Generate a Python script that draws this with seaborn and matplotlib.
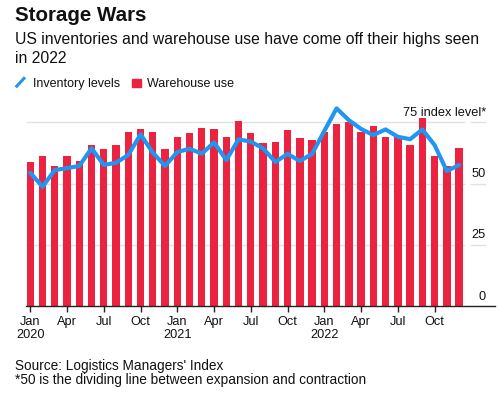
import numpy as np
import pandas as pd
import matplotlib
matplotlib.use("Agg")
import matplotlib.pyplot as plt
from matplotlib.lines import Line2D
from matplotlib.patches import Rectangle
import seaborn as sns

# ---- data ----
months = pd.date_range("2020-01-01", "2022-12-01", freq="MS").strftime("%b %Y").tolist()
warehouse_use = [58.8, 61.1, 57.0, 61.1, 59.1, 65.6, 64.0, 65.6, 71.2, 72.1, 71.2, 64.0,
                 69.1, 70.5, 72.5, 72.1, 68.9, 75.7, 70.8, 66.4, 66.8, 71.7, 68.5, 67.6,
                 71.2, 74.5, 75.3, 71.2, 73.4, 69.1, 69.1, 65.6, 76.9, 61.1, 57.2, 64.4]
inventory_levels = [54.4, 48.7, 55.5, 56.3, 57.2, 64.4, 57.6, 58.5, 61.7, 70.1, 62.6, 57.2,
                    62.9, 64.2, 62.2, 66.8, 59.6, 68.1, 67.1, 64.4, 58.8, 62.1, 59.2, 62.1,
                    71.5, 80.7, 75.9, 72.3, 69.8, 72.1, 69.1, 68.1, 72.1, 65.7, 55.1, 57.6]
x_tick_pos = [0, 3, 6, 9, 12, 15, 18, 21, 24, 27, 30, 33]
x_tick_labels = ["Jan\n2020", "Apr", "Jul", "Oct", "Jan\n2021", "Apr", "Jul", "Oct",
                 "Jan\n2022", "Apr", "Jul", "Oct"]
y_ticks = [0, 25, 50, 75]
y_tick_labels = ["0", "25", "50", "75 index level*"]

title = "Storage Wars"
subtitle = "US inventories and warehouse use have come off their highs seen\nin 2022"
legend_labels = ["Inventory levels", "Warehouse use"]
source = "Source: Logistics Managers' Index"
note = "*50 is the dividing line between expansion and contraction"

RED = "#EB2340"
BLUE = "#2196F0"
GRID = "#E2E2E2"
TXT = "#111111"

df = pd.DataFrame({"idx": np.arange(len(months)), "month": months,
                   "warehouse": warehouse_use, "inventory": inventory_levels})

sns.set_style("white")
plt.rcParams["font.family"] = ["Liberation Sans", "DejaVu Sans"]

W, H = 500, 396
fig = plt.figure(figsize=(W / 100, H / 100), dpi=100)
ax = fig.add_axes([26 / W, 90 / H, (495 - 26) / W, (306 - 105.2) / H])

sns.barplot(data=df, x="idx", y="warehouse", color=RED, width=0.6,
            linewidth=0, saturation=1, ax=ax, zorder=2)
sns.lineplot(data=df, x="idx", y="inventory", color=BLUE, linewidth=3.0,
             ax=ax, zorder=3, solid_joinstyle="round", solid_capstyle="round")

ax.set_xlim(-0.35, 37.93)
ax.set_ylim(0, 82)

# gridlines (main segment + short segment under labels)
for v in y_ticks[1:]:
    ax.hlines(v, -0.35, 35.49, color=GRID, linewidth=1.0, zorder=1)
    ax.hlines(v, 35.9, 37.2, color=GRID, linewidth=1.0, zorder=1)
for v, lab in zip(y_ticks, y_tick_labels):
    ax.annotate(lab, xy=(37.2, v), xytext=(0, 2.5), textcoords="offset points",
                ha="right", va="bottom", fontsize=9.2, color=TXT)

for s in ["top", "right", "left"]:
    ax.spines[s].set_visible(False)
ax.spines["bottom"].set_color("#222222")
ax.spines["bottom"].set_linewidth(1.0)
ax.set_yticks([])
ax.set_xticks(x_tick_pos)
ax.set_xticklabels(x_tick_labels, fontsize=9.2, color=TXT, linespacing=1.1)
ax.tick_params(axis="x", length=4, width=1, color="#222222", pad=3, bottom=True)
ax.set_xlabel("")
ax.set_ylabel("")
if ax.get_legend():
    ax.get_legend().remove()

def fy(px):
    return 1 - px / H

fig.text(15 / W, fy(21), title, fontsize=14.8, fontweight="bold", color=TXT, va="baseline")
fig.text(15 / W, fy(63.3), subtitle, fontsize=11.35, color=TXT, va="baseline",
         linespacing=1.34)

# legend
fig.add_artist(Line2D([15.7 / W, 25 / W], [fy(87.3), fy(77.3)], color=BLUE,
                      linewidth=2.2, solid_capstyle="butt"))
fig.text(33.3 / W, fy(87.3), legend_labels[0], fontsize=9, color=TXT, va="baseline")
fig.add_artist(Rectangle((132.3 / W, fy(87.3)), 8.7 / W, 8.3 / H, color=RED,
                         transform=fig.transFigure))
fig.text(147 / W, fy(87.3), legend_labels[1], fontsize=9, color=TXT, va="baseline")

fig.text(15 / W, fy(370), source, fontsize=9.8, color=TXT, va="baseline")
fig.text(15 / W, fy(384), note, fontsize=9.8, color=TXT, va="baseline")

fig.savefig("out.png", dpi=100)
